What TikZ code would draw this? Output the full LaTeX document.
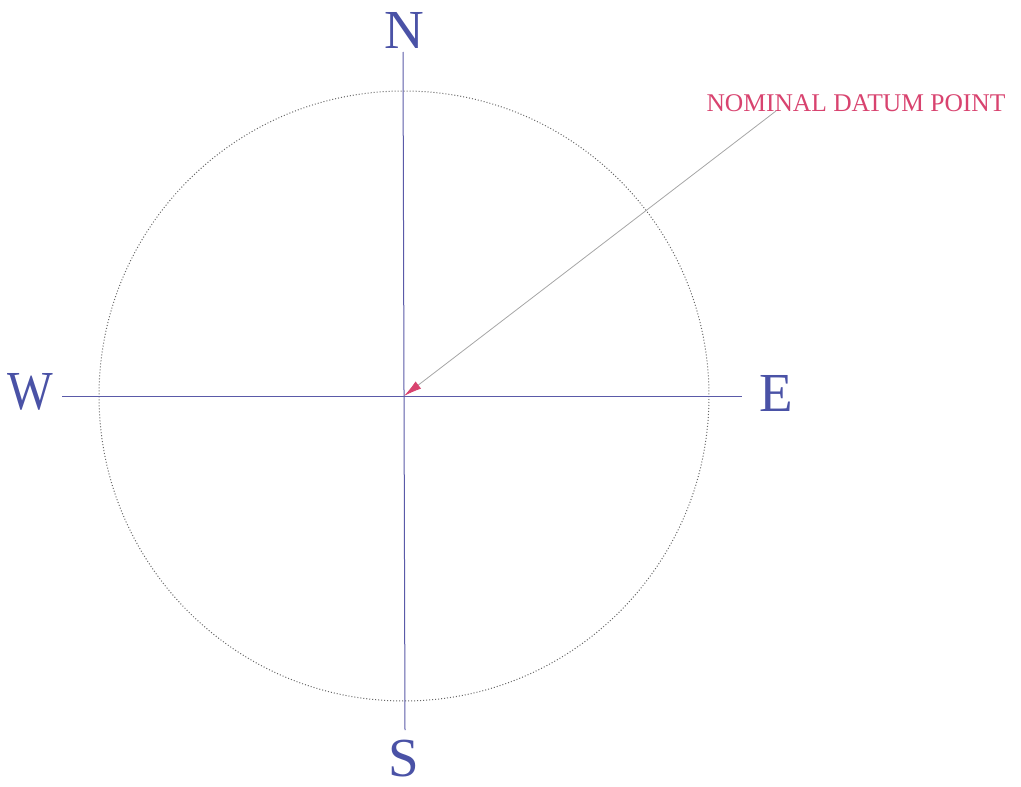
\documentclass[tikz,border=0pt]{standalone}
\usepackage{fontspec}
\setmainfont{Liberation Serif}
\usetikzlibrary{arrows.meta}
\definecolor{axisblue}{HTML}{5A5AA8}
\definecolor{letterblue}{HTML}{4A52A6}
\definecolor{datumpink}{HTML}{D8436F}
\tikzset{
  axis/.style={draw=axisblue, line width=1pt},
  compass/.style={text=letterblue, font=\fontsize{55}{55}\selectfont, inner sep=0pt},
  ring/.style={draw=gray!80!black, line width=1pt, dash pattern=on 1pt off 2pt},
  pointer/.style={draw=gray!70, line width=0.8pt, -{Latex[length=18pt,width=9pt,color=datumpink]}},
  tag/.style={text=datumpink, font=\fontsize{25.5}{25.5}\selectfont, inner sep=0pt}
}
\begin{document}
\begin{tikzpicture}[x=1pt,y=-1pt]
\useasboundingbox (0,0) rectangle (1021,787);
\coordinate (O) at (404,396);
\draw[ring] (O) circle (305);
\coordinate (ntop) at (403,52);
\coordinate (sbot) at (405,730);
\coordinate (wend) at (62,396);
\coordinate (eend) at (742,396);
\draw[axis] (ntop) -- (sbot);
\draw[axis] (wend) -- (eend);
\node[compass] (N) at (404,30) {N};
\node[compass] (S) at (404,759) {S};
\node[compass, xscale=0.88] (W) at (30,392) {W};
\node[compass] (E) at (776,393) {E};
\node[tag] (T) at (856,103) {NOMINAL DATUM POINT};
\coordinate (tail) at (776,111);
\draw[pointer] (tail) -- (O);
\end{tikzpicture}
\end{document}
